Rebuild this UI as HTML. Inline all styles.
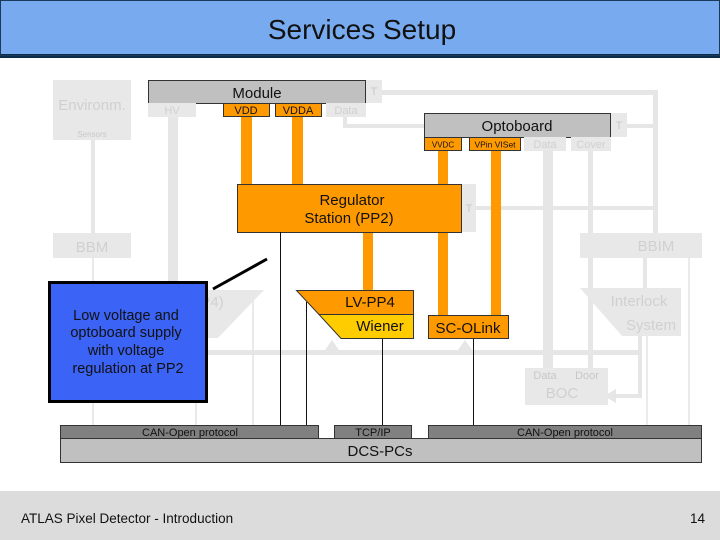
<!DOCTYPE html>
<html><head><meta charset="utf-8"><style>
html,body{margin:0;padding:0;background:#fff}
svg{display:block}
text{font-family:"Liberation Sans",sans-serif}
</style></head><body>
<svg width="720" height="540" viewBox="0 0 720 540" xmlns="http://www.w3.org/2000/svg">
<rect x="0" y="0" width="720" height="56" fill="#78aaf0"/>
<rect x="0" y="54" width="720" height="4" fill="#0d2c4c"/>
<rect x="0.5" y="0.5" width="719" height="55" fill="none" stroke="#1a3a5a"/>
<text x="362" y="39" font-size="28" text-anchor="middle" fill="#111">Services Setup</text>

<g fill="#e6e6e6">
<rect x="91" y="140" width="4" height="95"/>
<rect x="168" y="117" width="10" height="180"/>
<rect x="381" y="90" width="276" height="5"/>
<rect x="653" y="90" width="5" height="143"/>
<rect x="343" y="117" width="4" height="11"/>
<rect x="343" y="124" width="82" height="4"/>
<rect x="627" y="124" width="28" height="4"/>
<rect x="475" y="206" width="180" height="4"/>
<rect x="543" y="150" width="10" height="220"/>
<rect x="588" y="150" width="5" height="220"/>
<rect x="643" y="258" width="4" height="32"/>
<rect x="638" y="336" width="4" height="62"/>
<rect x="612" y="394" width="30" height="4"/>
<polygon points="604,396 616,389 616,403"/>
<rect x="165" y="350" width="477" height="5"/>
<polygon points="332,340 325,350 339,350"/>
<polygon points="465,340 458,350 472,350"/>
</g>
<g stroke="#e4e4e4" stroke-width="1.5">
<line x1="93" y1="258" x2="93" y2="425"/>
<line x1="196" y1="290" x2="196" y2="425"/>
<line x1="253" y1="290" x2="253" y2="425"/>
<line x1="647" y1="336" x2="647" y2="425"/>
<line x1="689" y1="258" x2="689" y2="425"/>
</g>

<rect x="53" y="80" width="78" height="60" fill="#e8e8e8"/>
<text x="92" y="110" font-size="15" fill="#d0d0d0" text-anchor="middle">Environm.</text>
<text x="92" y="137" font-size="8" fill="#c8c8c8" text-anchor="middle">Sensors</text>
<rect x="53" y="233" width="78" height="25" fill="#e8e8e8"/>
<text x="92" y="252" font-size="15" fill="#d0d0d0" text-anchor="middle">BBM</text>

<rect x="148.5" y="80.5" width="217" height="23" fill="#c0c0c0" stroke="#333"/>
<text x="257" y="98" font-size="15" fill="#111" text-anchor="middle">Module</text>
<rect x="366" y="80" width="16" height="23" fill="#e8e8e8"/>
<text x="374" y="95" font-size="11" fill="#c8c8c8" text-anchor="middle">T</text>
<rect x="148" y="103" width="48" height="14" fill="#e8e8e8"/>
<text x="172" y="114" font-size="11" fill="#d0d0d0" text-anchor="middle">HV</text>
<rect x="223.5" y="103.5" width="46" height="13" fill="#f90" stroke="#333"/>
<text x="246" y="114" font-size="11" fill="#111" text-anchor="middle">VDD</text>
<rect x="275.5" y="103.5" width="46" height="13" fill="#f90" stroke="#333"/>
<text x="298" y="114" font-size="11" fill="#111" text-anchor="middle">VDDA</text>
<rect x="326" y="103" width="40" height="14" fill="#e8e8e8"/>
<text x="346" y="114" font-size="11" fill="#d0d0d0" text-anchor="middle">Data</text>

<g fill="#f90">
<rect x="241" y="117" width="11" height="67"/>
<rect x="292" y="117" width="11" height="67"/>
<rect x="363" y="232" width="10" height="58"/>
<rect x="438" y="150" width="10" height="165"/>
<rect x="491" y="150" width="10" height="165"/>
</g>

<rect x="424.5" y="113.5" width="186" height="24" fill="#c0c0c0" stroke="#333"/>
<text x="517" y="131" font-size="15" fill="#111" text-anchor="middle">Optoboard</text>
<rect x="611" y="113" width="16" height="24" fill="#e8e8e8"/>
<text x="619" y="129" font-size="11" fill="#c8c8c8" text-anchor="middle">T</text>
<rect x="424.5" y="137.5" width="37" height="13" fill="#f90" stroke="#333"/>
<text x="443" y="147.5" font-size="8" fill="#111" text-anchor="middle">VVDC</text>
<rect x="469.5" y="137.5" width="51" height="13" fill="#f90" stroke="#333"/>
<text x="495" y="147.5" font-size="8.5" fill="#111" text-anchor="middle">VPin VISet</text>
<rect x="524" y="137" width="42" height="14" fill="#e8e8e8"/>
<text x="545" y="148" font-size="11" fill="#d0d0d0" text-anchor="middle">Data</text>
<rect x="571" y="137" width="40" height="14" fill="#e8e8e8"/>
<text x="591" y="148" font-size="11" fill="#d0d0d0" text-anchor="middle">Cover</text>

<rect x="237.5" y="184.5" width="224" height="48" fill="#f90" stroke="#333"/>
<text x="352" y="205" font-size="15" fill="#111" text-anchor="middle">Regulator</text>
<text x="349" y="223" font-size="15" fill="#111" text-anchor="middle">Station (PP2)</text>
<rect x="462" y="184" width="14" height="48" fill="#e8e8e8"/>
<text x="469" y="212" font-size="11" fill="#c8c8c8" text-anchor="middle">T</text>

<rect x="580" y="233" width="122" height="25" fill="#e8e8e8"/>
<text x="656" y="251" font-size="15" fill="#d0d0d0" text-anchor="middle">BBIM</text>

<polygon points="580,288 681,288 681,336 622,336" fill="#e8e8e8"/>
<text x="639" y="306" font-size="15" fill="#d0d0d0" text-anchor="middle">Interlock</text>
<text x="651" y="330" font-size="15" fill="#d0d0d0" text-anchor="middle">System</text>

<rect x="525" y="368" width="83" height="37" fill="#e8e8e8"/>
<text x="545" y="379" font-size="11" fill="#c8c8c8" text-anchor="middle">Data</text>
<text x="587" y="379" font-size="11" fill="#c8c8c8" text-anchor="middle">Door</text>
<text x="562" y="398" font-size="15" fill="#d0d0d0" text-anchor="middle">BOC</text>

<polygon points="160,290 264,290 218,338 160,338" fill="#e8e8e8"/>
<text x="212" y="307" font-size="15" fill="#d0d0d0" text-anchor="middle">P4)</text>

<g stroke="#111" stroke-width="1">
<line x1="280.5" y1="232" x2="280.5" y2="425"/>
<line x1="306.5" y1="302" x2="306.5" y2="425"/>
<line x1="382.5" y1="338" x2="382.5" y2="425"/>
<line x1="473.5" y1="338" x2="473.5" y2="425"/>
</g>
<line x1="213" y1="289" x2="267" y2="259" stroke="#000" stroke-width="3"/>

<polygon points="296.5,290.5 413.5,290.5 413.5,314.5 319,314.5" fill="#f90" stroke="#333"/>
<polygon points="319,314.5 413.5,314.5 413.5,338.5 341,338.5" fill="#fc0" stroke="#333"/>
<text x="370" y="307" font-size="15" fill="#111" text-anchor="middle">LV-PP4</text>
<text x="380" y="331" font-size="15" fill="#111" text-anchor="middle">Wiener</text>

<rect x="428.5" y="315.5" width="80" height="23" fill="#f90" stroke="#333"/>
<text x="468" y="333" font-size="15" fill="#111" text-anchor="middle">SC-OLink</text>

<rect x="49.5" y="282.5" width="157" height="119" fill="#3b63f5" stroke="#000" stroke-width="3"/>
<text font-size="14.5" fill="#111" text-anchor="middle">
<tspan x="128" y="320">Low voltage and</tspan>
<tspan x="128" y="337">optoboard supply</tspan>
<tspan x="128" y="355">with voltage</tspan>
<tspan x="128" y="373">regulation at PP2</tspan>
</text>

<rect x="60.5" y="425.5" width="258" height="13" fill="#808080" stroke="#333"/>
<text x="190" y="436" font-size="11" fill="#111" text-anchor="middle">CAN-Open protocol</text>
<rect x="334.5" y="425.5" width="77" height="13" fill="#808080" stroke="#333"/>
<text x="373" y="436" font-size="11" fill="#111" text-anchor="middle">TCP/IP</text>
<rect x="428.5" y="425.5" width="273" height="13" fill="#808080" stroke="#333"/>
<text x="565" y="436" font-size="11" fill="#111" text-anchor="middle">CAN-Open protocol</text>
<rect x="60.5" y="438.5" width="641" height="24" fill="#c0c0c0" stroke="#333"/>
<text x="380" y="456" font-size="15" fill="#111" text-anchor="middle">DCS-PCs</text>

<rect x="0" y="491" width="720" height="49" fill="#dcdcdc"/>
<text x="21" y="523" font-size="13.5" fill="#111">ATLAS Pixel Detector - Introduction</text>
<text x="705" y="523" font-size="13.5" fill="#111" text-anchor="end">14</text>
</svg>
</body></html>
